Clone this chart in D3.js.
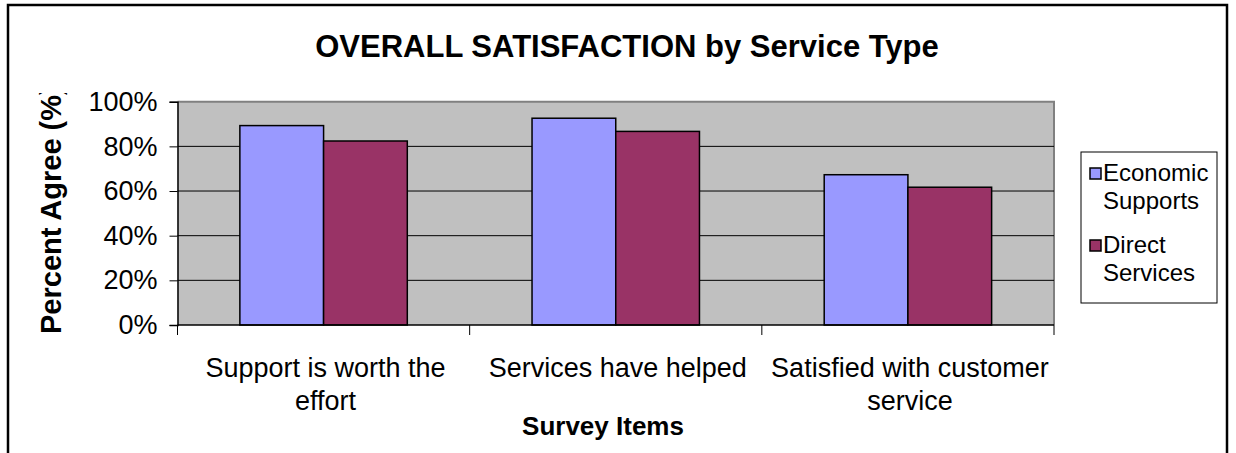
<!DOCTYPE html>
<html>

<head>
  <title>Overall Satisfaction by Service Type</title>
  <script src="https://d3js.org/d3.v7.min.js"></script>
  <style>
    body { margin: 0; background: #ffffff; }
    text { font-family: "Liberation Sans", Arial, sans-serif; fill: #000000; }
  </style>
</head>

<body>
  <div id="chart"></div>
  <script type="text/javascript">
    var categories = [["Support is worth the", "effort"], ["Services have helped"], ["Satisfied with customer", "service"]];
    var seriesNames = ["Economic Supports", "Direct Services"];
    var legendLines = [["Economic", "Supports"], ["Direct", "Services"]];
    var economicSupports = [89.3, 92.6, 67.3];
    var directServices = [82.4, 86.7, 61.7];
    var yTicks = [0, 20, 40, 60, 80, 100];
    var colors = ["#9999ff", "#993366"];

    var width = 1236, height = 453;
    var plot = { left: 177.5, right: 1054, top: 101.7, bottom: 325 };

    var svg = d3.select("#chart").append("svg")
      .attr("width", width)
      .attr("height", height);

    // outer chart frame (bottom edge is past the picture)
    svg.append("rect")
      .attr("x", 8).attr("y", 5)
      .attr("width", 1219).attr("height", 470)
      .attr("fill", "none")
      .attr("stroke", "#000")
      .attr("stroke-width", 2.5);

    var x0 = d3.scaleBand()
      .domain(d3.range(categories.length))
      .range([plot.left, plot.right])
      .paddingInner(0).paddingOuter(0);
    var x1 = d3.scaleBand()
      .domain(d3.range(seriesNames.length))
      .range([0, x0.bandwidth()])
      .paddingInner(0).paddingOuter(0.745);
    var y = d3.scaleLinear().domain([0, 100]).range([plot.bottom, plot.top]);

    // plot background
    svg.append("rect")
      .attr("x", plot.left).attr("y", plot.top)
      .attr("width", plot.right - plot.left)
      .attr("height", plot.bottom - plot.top)
      .attr("fill", "#c0c0c0");
    svg.append("path")
      .attr("d", "M" + plot.left + "," + plot.top + "H" + plot.right + "V" + plot.bottom)
      .attr("fill", "none")
      .attr("stroke", "#808080")
      .attr("stroke-width", 2);

    // gridlines
    svg.append("g").selectAll("line")
      .data(yTicks.filter(function (d) { return d > 0 && d < 100; }))
      .enter().append("line")
      .attr("x1", plot.left).attr("x2", plot.right)
      .attr("y1", function (d) { return y(d); })
      .attr("y2", function (d) { return y(d); })
      .attr("stroke", "#000")
      .attr("stroke-width", 1);

    // bars
    var table = categories.map(function (c, i) {
      return [economicSupports[i], directServices[i]];
    });
    svg.append("g").selectAll("g")
      .data(table)
      .enter().append("g")
      .attr("transform", function (d, i) { return "translate(" + x0(i) + ",0)"; })
      .selectAll("rect")
      .data(function (d) { return d; })
      .enter().append("rect")
      .attr("x", function (d, j) { return x1(j); })
      .attr("width", x1.bandwidth())
      .attr("y", function (d) { return y(d); })
      .attr("height", function (d) { return plot.bottom - y(d); })
      .attr("fill", function (d, j) { return colors[j]; })
      .attr("stroke", "#000")
      .attr("stroke-width", 1.5);

    // y axis
    var yAxis = svg.append("g")
      .attr("transform", "translate(" + plot.left + ",0)")
      .call(d3.axisLeft(y).tickValues(yTicks).tickSize(8).tickPadding(12)
        .tickFormat(function (d) { return d + "%"; }));
    yAxis.select(".domain").attr("stroke", "#000").attr("stroke-width", 1.5);
    yAxis.selectAll("line").attr("stroke", "#000");
    yAxis.selectAll("text")
      .style("font-family", "'Liberation Sans', Arial, sans-serif")
      .style("font-size", "27px")
      .attr("fill", "#000");

    // x axis with ticks on category boundaries
    svg.append("line")
      .attr("x1", plot.left).attr("x2", plot.right)
      .attr("y1", plot.bottom).attr("y2", plot.bottom)
      .attr("stroke", "#000").attr("stroke-width", 1.5);
    var edges = d3.range(categories.length + 1).map(function (i) {
      return i < categories.length ? x0(i) : plot.right;
    });
    svg.append("g").selectAll("line")
      .data(edges)
      .enter().append("line")
      .attr("x1", function (d) { return d; })
      .attr("x2", function (d) { return d; })
      .attr("y1", plot.bottom).attr("y2", plot.bottom + 10)
      .attr("stroke", "#000");

    var xLabels = svg.append("g").selectAll("text")
      .data(categories)
      .enter().append("text")
      .attr("text-anchor", "middle")
      .style("font-size", "27px")
      .attr("x", function (d, i) { return x0(i) + x0.bandwidth() / 2 + 2; })
      .attr("y", 377);
    xLabels.selectAll("tspan")
      .data(function (d) { return d; })
      .enter().append("tspan")
      .attr("x", function () { return d3.select(this.parentNode).attr("x"); })
      .attr("dy", function (d, i) { return i === 0 ? 0 : 33; })
      .text(function (d) { return d; });

    // titles
    svg.append("text")
      .attr("x", 627).attr("y", 57)
      .attr("text-anchor", "middle")
      .style("font-size", "31px")
      .style("font-weight", "bold")
      .text("OVERALL SATISFACTION by Service Type");

    svg.append("text")
      .attr("x", 603).attr("y", 435)
      .attr("text-anchor", "middle")
      .style("font-size", "26px")
      .style("font-weight", "bold")
      .text("Survey Items");

    // the axis title runs past the top of its box and is cut there
    svg.append("clipPath").attr("id", "ytitle-clip")
      .append("rect").attr("x", 0).attr("y", 93).attr("width", 120).attr("height", 300);
    svg.append("g")
      .attr("clip-path", "url(#ytitle-clip)")
      .append("text")
      .attr("transform", "translate(61,334) rotate(-90)")
      .attr("text-anchor", "start")
      .style("font-size", "29px")
      .style("font-weight", "bold")
      .text("Percent Agree (%)");

    // legend
    var legend = svg.append("g");
    legend.append("rect")
      .attr("x", 1081).attr("y", 152)
      .attr("width", 136).attr("height", 151)
      .attr("fill", "#fff")
      .attr("stroke", "#000")
      .attr("stroke-width", 1);
    var items = legend.selectAll("g.item")
      .data(seriesNames)
      .enter().append("g")
      .attr("class", "item")
      .attr("transform", function (d, i) { return "translate(1090," + (181 + i * 72) + ")"; });
    items.append("rect")
      .attr("x", 0).attr("y", -13)
      .attr("width", 11).attr("height", 11)
      .attr("fill", function (d, i) { return colors[i]; })
      .attr("stroke", "#000")
      .attr("stroke-width", 1.5);
    items.append("text")
      .style("font-size", "24px")
      .selectAll("tspan")
      .data(function (d, i) { return legendLines[i]; })
      .enter().append("tspan")
      .attr("x", 13)
      .attr("dy", function (d, i) { return i === 0 ? 0 : 28; })
      .text(function (d) { return d; });
  </script>
</body>
</html>
